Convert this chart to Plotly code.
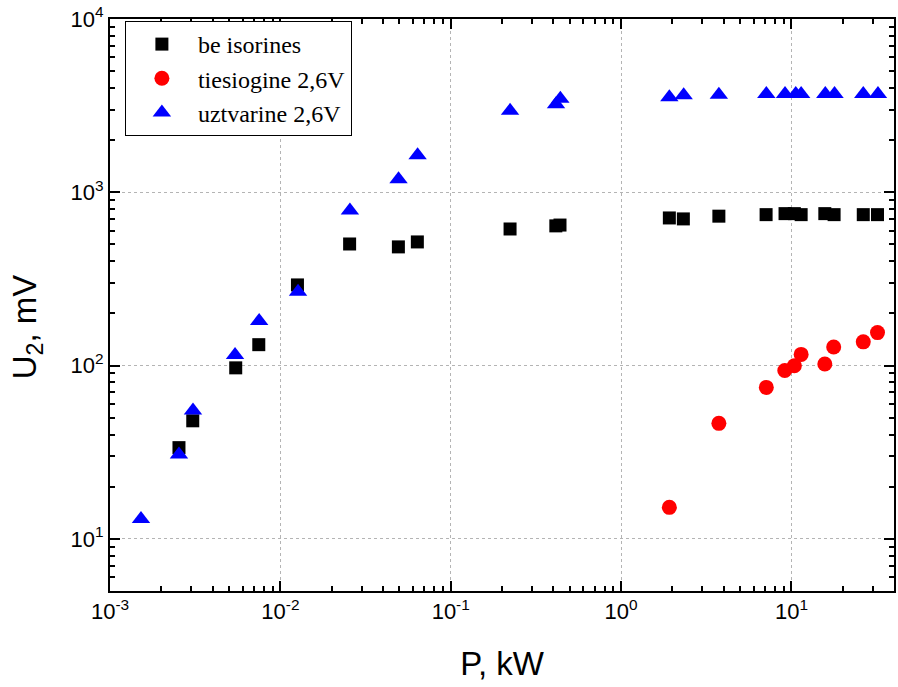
import plotly.graph_objects as go

# --- data (P in kW, U2 in mV) ---
p_black = [0.00254, 0.00306, 0.00547, 0.00747, 0.0126, 0.0255, 0.0493, 0.0637,
           0.223, 0.414, 0.438, 1.92, 2.32, 3.75, 7.10, 9.17, 10.4, 11.4, 15.7, 17.8, 26.4, 32.0]
u_black = [33.6, 48, 97, 132, 292, 503, 484, 517,
           614, 640, 647, 711, 702, 728, 743, 753, 753, 743, 753, 743, 743, 743]

p_red = [1.92, 3.75, 7.12, 9.14, 10.4, 11.4, 15.7, 17.7, 26.4, 32.0]
u_red = [15.2, 46.4, 74.8, 93.7, 99.8, 116, 102, 128, 137, 155]

p_blue = [0.00152, 0.00254, 0.00307, 0.00542, 0.00751, 0.0127, 0.0256, 0.0494, 0.0639,
          0.223, 0.415, 0.44, 1.92, 2.33, 3.75, 7.12, 9.17, 10.6, 11.4, 15.8, 17.9, 26.4, 32.2]
u_blue = [13.0, 30.7, 55, 115, 181, 267, 785, 1189, 1634,
          2950, 3223, 3470, 3540, 3630, 3650, 3690, 3690, 3690, 3690, 3690, 3690, 3690, 3690]

names = ["be isorines", "tiesiogine 2,6V", "uztvarine 2,6V"]

x_tickvals = [1e-3, 1e-2, 1e-1, 1e0, 1e1]
x_ticktext = ["10<sup>-3</sup>", "10<sup>-2</sup>", "10<sup>-1</sup>", "10<sup>0</sup>", "10<sup>1</sup>"]
y_tickvals = [1e1, 1e2, 1e3, 1e4]
y_ticktext = ["10<sup>1</sup>", "10<sup>2</sup>", "10<sup>3</sup>", "10<sup>4</sup>"]

x_title = "P, kW"
y_title = "U<sub>2</sub>, mV"


def minor_vals(decades):
    return [m * 10 ** d for d in decades for m in range(2, 10)]


fig = go.Figure()
fig.add_trace(go.Scatter(x=p_black, y=u_black, mode="markers", name=names[0],
                         marker=dict(symbol="square", size=13, color="black")))
fig.add_trace(go.Scatter(x=p_red, y=u_red, mode="markers", name=names[1],
                         marker=dict(symbol="circle", size=15, color="#ff0000")))
fig.add_trace(go.Scatter(x=p_blue, y=u_blue, mode="markers", name=names[2],
                         marker=dict(symbol="triangle-up", size=16, color="#0000ff")))

font_sans = "Liberation Sans, Arial"
axis_common = dict(
    type="log", showline=True, linecolor="black", linewidth=2, mirror="allticks",
    ticks="inside", ticklen=10, tickwidth=2, tickcolor="black",
    tickmode="array",
    showgrid=True, gridcolor="#b4b4b4", griddash="dot", gridwidth=1,
    zeroline=False,
    tickfont=dict(family=font_sans, size=22, color="black"),
)
minor_common = dict(tickmode="array", ticks="inside", ticklen=5, tickwidth=2,
                    tickcolor="black", showgrid=False)

fig.update_xaxes(**axis_common, range=[-3, 1.602],
                 tickvals=x_tickvals, ticktext=x_ticktext,
                 minor=dict(**minor_common, tickvals=minor_vals([-3, -2, -1, 0, 1])),
                 title=dict(text=x_title, font=dict(family=font_sans, size=33, color="black"),
                            standoff=28))
fig.update_yaxes(**axis_common, range=[0.699, 4],
                 tickvals=y_tickvals, ticktext=y_ticktext,
                 minor=dict(**minor_common, tickvals=minor_vals([0, 1, 2, 3])))

fig.add_annotation(text=y_title, textangle=-90, xref="paper", yref="paper",
                   x=-0.1056, y=0.4615, xanchor="center", yanchor="middle", showarrow=False,
                   font=dict(family=font_sans, size=33, color="black"))

fig.update_layout(
    width=898, height=687,
    margin=dict(l=110, r=2, t=19, b=96),
    plot_bgcolor="white", paper_bgcolor="white",
    legend=dict(x=0.019, y=0.9965, xanchor="left", yanchor="top",
                bgcolor="white", bordercolor="black", borderwidth=1,
                font=dict(family="Liberation Serif, Times New Roman", size=24, color="black"),
                itemwidth=62),
)

fig.write_html("out.html")
